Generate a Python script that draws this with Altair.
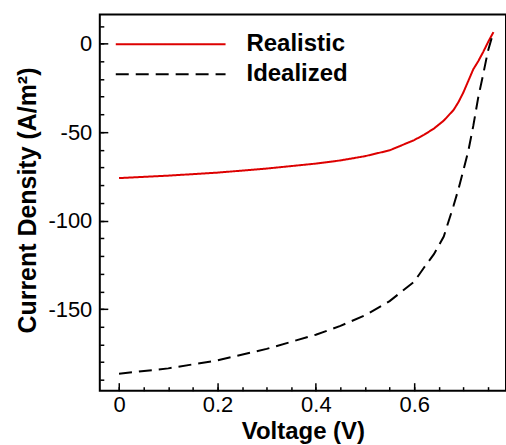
import altair as alt
import pandas as pd

# ---- data ----
voltage_realistic = [0.0, 0.1, 0.2, 0.3, 0.4, 0.45, 0.5, 0.55, 0.6, 0.62, 0.64, 0.66,
                     0.68, 0.69, 0.70, 0.71, 0.72, 0.73, 0.74, 0.75, 0.761]
current_realistic = [-76.0, -74.6, -72.9, -70.6, -67.8, -66.0, -63.6, -60.3, -54.5, -51.5,
                     -48.0, -43.5, -37.5, -33.0, -27.5, -21.0, -14.5, -10.0, -4.8, 0.8, 6.5]

voltage_idealized = [0.0, 0.1, 0.2, 0.3, 0.4, 0.45, 0.5, 0.55, 0.6, 0.62, 0.64, 0.66,
                     0.68, 0.69, 0.70, 0.71, 0.72, 0.73, 0.74, 0.75, 0.761]
current_idealized = [-186.5, -183.5, -179.0, -172.5, -164.5, -159.5, -153.5, -145.5, -134.5,
                     -126.5, -119.0, -109.0, -91.5, -82.0, -71.5, -60.5, -46.5, -30.5, -17.5,
                     -4.0, 6.5]

series_names = ["Realistic", "Idealized"]
series_colors = ["#dd0000", "#000000"]
series_dashes = [[1, 0], [13, 7]]

x_major_values = [0, 0.2, 0.4, 0.6]
x_minor_values = [0, 0.05, 0.1, 0.15, 0.2, 0.25, 0.3, 0.35, 0.4, 0.45, 0.5, 0.55, 0.6,
                  0.65, 0.7, 0.75]
y_major_values = [-150, -100, -50, 0]
y_minor_values = [-190, -180, -170, -160, -150, -140, -130, -120, -110, -100, -90, -80,
                  -70, -60, -50, -40, -30, -20, -10, 0, 10]

x_title = "Voltage (V)"
y_title = "Current Density (A/m²)"

# ---- table ----
df = pd.concat([
    pd.DataFrame({"voltage": voltage_realistic, "current": current_realistic,
                  "series": series_names[0]}),
    pd.DataFrame({"voltage": voltage_idealized, "current": current_idealized,
                  "series": series_names[1]}),
], ignore_index=True)

W, H = 407, 377
X_DOMAIN = [-0.0391, 0.7865]
Y_DOMAIN = [-196.1, 16.5]
FONT = "Liberation Sans"


def xscale():
    return alt.Scale(domain=X_DOMAIN, nice=False, zero=False)


def yscale():
    return alt.Scale(domain=Y_DOMAIN, nice=False, zero=False)


legend = alt.Legend(
    orient="none", legendX=15, legendY=18, symbolType="stroke", symbolSize=12100,
    symbolStrokeWidth=2, clipHeight=24, rowPadding=6, padding=0,
    labelFont=FONT, labelFontSize=24, labelFontWeight="bold", labelColor="black",
    labelOffset=20, labelLimit=300,
)

lines = alt.Chart(df).mark_line(strokeWidth=2, clip=True).encode(
    x=alt.X("voltage:Q", scale=xscale(), title=x_title,
            axis=alt.Axis(values=x_major_values, labelExpr="'' + datum.value",
                          ticks=False, domain=False, grid=False, labelPadding=4,
                          labelFont=FONT, labelFontSize=22, labelColor="black",
                          titleFont=FONT, titleFontSize=24, titleFontWeight="bold",
                          titleColor="black", titleBaseline="alphabetic", titleY=48)),
    y=alt.Y("current:Q", scale=yscale(), title=y_title,
            axis=alt.Axis(values=y_major_values, labelExpr="'' + datum.value",
                          ticks=False, domain=False, grid=False, labelPadding=8,
                          labelFont=FONT, labelFontSize=22, labelColor="black",
                          titleFont=FONT, titleFontSize=25, titleFontWeight="bold",
                          titleColor="black", titleBaseline="alphabetic",
                          titleAngle=270, titleX=-64, titleY=186, titleAlign="center")),
    color=alt.Color("series:N", title=None,
                    scale=alt.Scale(domain=series_names, range=series_colors),
                    legend=legend),
    strokeDash=alt.StrokeDash("series:N", title=None,
                              scale=alt.Scale(domain=series_names, range=series_dashes),
                              legend=legend),
)


def tick_layer(xvals, yvals, size):
    return alt.Chart(df).mark_line(opacity=0).encode(
        x=alt.X("voltage:Q", scale=xscale(), title=None,
                axis=alt.Axis(orient="top", offset=-H, values=xvals, tickSize=size,
                              tickWidth=1.5, tickColor="black", labels=False,
                              domain=False, grid=False)),
        y=alt.Y("current:Q", scale=yscale(), title=None,
                axis=alt.Axis(orient="right", offset=-W, values=yvals, tickSize=size,
                              tickWidth=1.5, tickColor="black", labels=False,
                              domain=False, grid=False)),
        detail="series:N",
    )


chart = alt.layer(
    lines,
    tick_layer(x_major_values, y_major_values, 8),
    tick_layer(x_minor_values, y_minor_values, 4),
).resolve_scale(
    x="independent", y="independent"
).properties(
    width=W, height=H,
    autosize=alt.AutoSizeParams(type="none"),
    padding={"left": 100, "top": 14, "right": 0, "bottom": 54},
).configure_view(
    stroke="black", strokeWidth=2
)

chart.save("out.html", embed_options={"renderer": "svg", "actions": False})
